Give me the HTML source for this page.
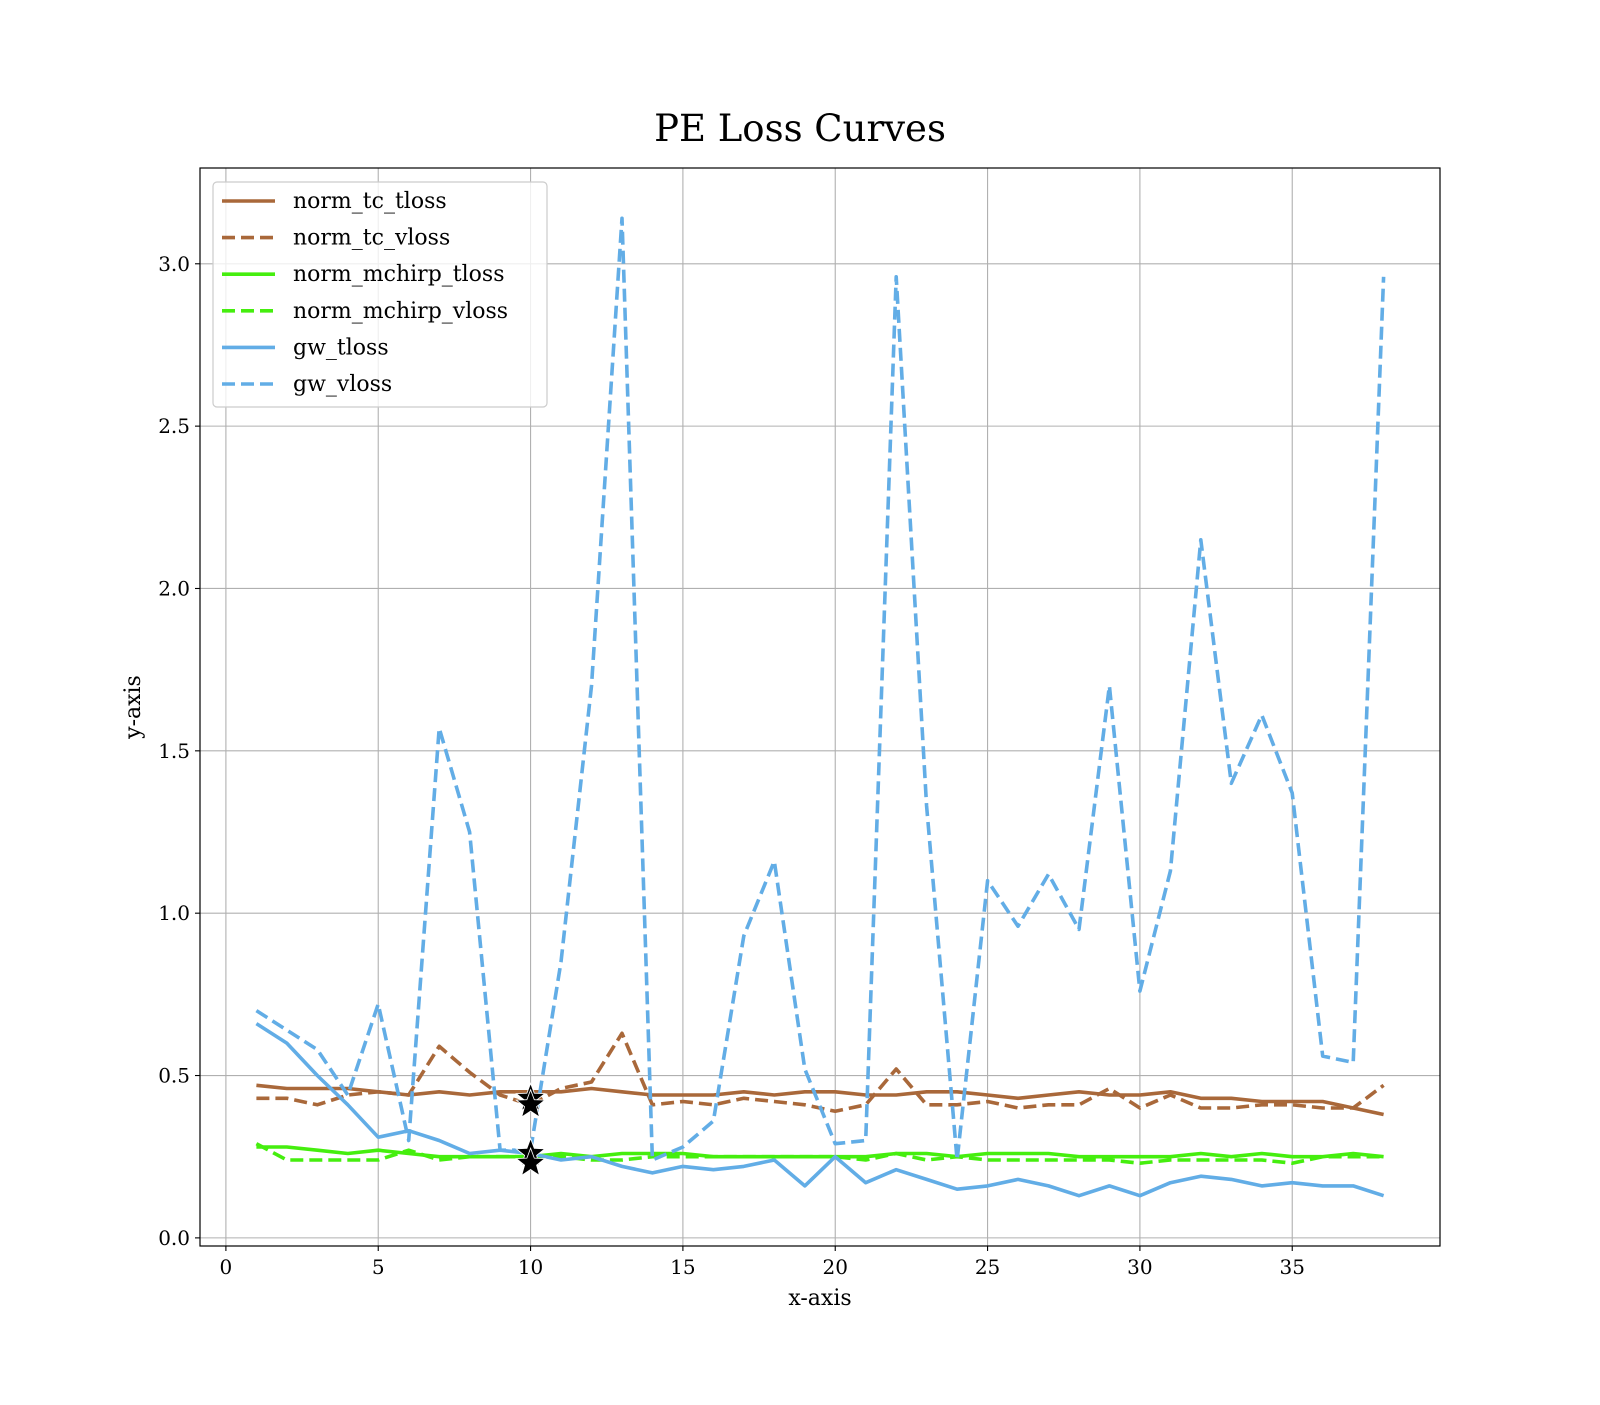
<!DOCTYPE html>
<html><head><meta charset="utf-8"><style>
html,body{margin:0;padding:0;background:#fff;}
svg text{font-family:"DejaVu Serif","Liberation Serif",serif;fill:#000;}
</style></head><body>
<svg id="chart" width="1600" height="1400" viewBox="0 0 1600 1400" xmlns="http://www.w3.org/2000/svg">
<rect width="1600" height="1400" fill="#fff"/>
<text x="800" y="141" text-anchor="middle" font-size="37">PE Loss Curves</text>
<g id="grid"></g><g id="series"></g><g id="ticks"></g>
<rect x="200" y="168" width="1240" height="1078" fill="none" stroke="#000" stroke-width="1.2"/>
<text x="820" y="1305" text-anchor="middle" font-size="22">x-axis</text>
<text transform="translate(140,707) rotate(-90)" text-anchor="middle" font-size="22">y-axis</text>
<g id="legend"></g>
</svg>
<script>
const epochs = [1,2,3,4,5,6,7,8,9,10,11,12,13,14,15,16,17,18,19,20,21,22,23,24,25,26,27,28,29,30,31,32,33,34,35,36,37,38];
const tcTloss = [0.47,0.46,0.46,0.46,0.45,0.44,0.45,0.44,0.45,0.45,0.45,0.46,0.45,0.44,0.44,0.44,0.45,0.44,0.45,0.45,0.44,0.44,0.45,0.45,0.44,0.43,0.44,0.45,0.44,0.44,0.45,0.43,0.43,0.42,0.42,0.42,0.40,0.38];
const tcVloss = [0.43,0.43,0.41,0.44,0.45,0.44,0.59,0.51,0.44,0.41,0.46,0.48,0.63,0.41,0.42,0.41,0.43,0.42,0.41,0.39,0.41,0.52,0.41,0.41,0.42,0.40,0.41,0.41,0.46,0.40,0.44,0.40,0.40,0.41,0.41,0.40,0.40,0.47];
const mchirpTloss = [0.28,0.28,0.27,0.26,0.27,0.26,0.25,0.25,0.25,0.25,0.26,0.25,0.26,0.26,0.26,0.25,0.25,0.25,0.25,0.25,0.25,0.26,0.26,0.25,0.26,0.26,0.26,0.25,0.25,0.25,0.25,0.26,0.25,0.26,0.25,0.25,0.26,0.25];
const mchirpVloss = [0.29,0.24,0.24,0.24,0.24,0.27,0.24,0.25,0.25,0.25,0.25,0.24,0.24,0.25,0.25,0.25,0.25,0.25,0.25,0.25,0.24,0.26,0.24,0.25,0.24,0.24,0.24,0.24,0.24,0.23,0.24,0.24,0.24,0.24,0.23,0.25,0.25,0.25];
const gwTloss = [0.66,0.60,0.50,0.41,0.31,0.33,0.30,0.26,0.27,0.26,0.24,0.25,0.22,0.20,0.22,0.21,0.22,0.24,0.16,0.25,0.17,0.21,0.18,0.15,0.16,0.18,0.16,0.13,0.16,0.13,0.17,0.19,0.18,0.16,0.17,0.16,0.16,0.13];
const gwVloss = [0.70,0.64,0.58,0.44,0.72,0.30,1.57,1.25,0.27,0.27,0.85,1.70,3.14,0.24,0.28,0.36,0.93,1.16,0.52,0.29,0.30,2.96,1.33,0.24,1.10,0.96,1.12,0.95,1.70,0.76,1.13,2.15,1.40,1.61,1.37,0.56,0.54,2.96];
const xTicks = [0,5,10,15,20,25,30,35];
const yTicks = [0.0,0.5,1.0,1.5,2.0,2.5,3.0];
const starX = [10,10,10,10];
const starY = [0.43,0.41,0.26,0.23];

const L=200,R=1440,T=168,B=1246,XMIN=-0.85,XMAX=39.85,YMIN=-0.025,YMAX=3.295;
const sx=v=>L+(v-XMIN)/(XMAX-XMIN)*(R-L);
const sy=v=>B-(v-YMIN)/(YMAX-YMIN)*(B-T);
const NS='http://www.w3.org/2000/svg';
function mk(tag,parent,attrs){const e=document.createElementNS(NS,tag);for(const k in attrs)e.setAttribute(k,attrs[k]);parent.appendChild(e);return e;}
const grid=document.getElementById('grid'),ticks=document.getElementById('ticks'),ser=document.getElementById('series'),leg=document.getElementById('legend');
xTicks.forEach(t=>{
  const g=mk('line',grid,{x1:sx(t),x2:sx(t),y1:T,y2:B,stroke:'#b0b0b0','stroke-width':1.1});
  
  
  const tk=mk('line',ticks,{x1:sx(t),x2:sx(t),y1:B,y2:B+5,stroke:'#000','stroke-width':1.1});
  
  
  const tx=mk('text',ticks,{x:sx(t),y:B+28,'text-anchor':'middle','font-size':20});
  tx.textContent=String(t);
  
  
});
yTicks.forEach(t=>{
  const g=mk('line',grid,{x1:L,x2:R,y1:sy(t),y2:sy(t),stroke:'#b0b0b0','stroke-width':1.1});
  
  
  const tk=mk('line',ticks,{x1:L-5,x2:L,y1:sy(t),y2:sy(t),stroke:'#000','stroke-width':1.1});
  
  
  const tx=mk('text',ticks,{x:L-10,y:sy(t)+7,'text-anchor':'end','font-size':20});
  tx.textContent=t.toFixed(1);
  
  
});
const series=[
 {name:'norm_tc_tloss',data:tcTloss,color:'#a9683a',dash:null},
 {name:'norm_tc_vloss',data:tcVloss,color:'#a9683a',dash:'13,6'},
 {name:'norm_mchirp_tloss',data:mchirpTloss,color:'#45ee0e',dash:null},
 {name:'norm_mchirp_vloss',data:mchirpVloss,color:'#45ee0e',dash:'13,6'},
 {name:'gw_tloss',data:gwTloss,color:'#62ade6',dash:null},
 {name:'gw_vloss',data:gwVloss,color:'#62ade6',dash:'13,6'}
];
series.forEach(s=>{
  const pts=s.data.map((v,i)=>sx(epochs[i]).toFixed(1)+','+sy(v).toFixed(1)).join(' ');
  const a={points:pts,fill:'none',stroke:s.color,'stroke-width':3.6,'stroke-linejoin':'round'};
  if(s.dash)a['stroke-dasharray']=s.dash;
  const p=mk('polyline',ser,a);
  
  
});
function starPath(cx,cy,r){let d='';for(let i=0;i<10;i++){const rr=i%2?r*0.42:r;const a=-Math.PI/2+i*Math.PI/5;d+=(i?'L':'M')+(cx+rr*Math.cos(a)).toFixed(1)+','+(cy+rr*Math.sin(a)).toFixed(1);}return d+'Z';}
starX.forEach((x,i)=>{
  const st=mk('path',ser,{d:starPath(sx(x),sy(starY[i]),15),fill:'#000',stroke:'#fff','stroke-width':0.8});
  
  
});
const box=mk('rect',leg,{x:213,y:182,width:334,height:225,rx:4,fill:'#fff','fill-opacity':0.8,stroke:'#ccc','stroke-width':1.2});


series.forEach((s,i)=>{
  const y=201+i*36.6;
  const a={x1:222,x2:275,y1:y,y2:y,stroke:s.color,'stroke-width':3.6};
  if(s.dash)a['stroke-dasharray']=s.dash;
  const ln=mk('line',leg,a);
  
  
  const t=mk('text',leg,{x:293,y:y+7,'font-size':22});
  t.textContent=s.name;
  
  
});
</script>
</body></html>
